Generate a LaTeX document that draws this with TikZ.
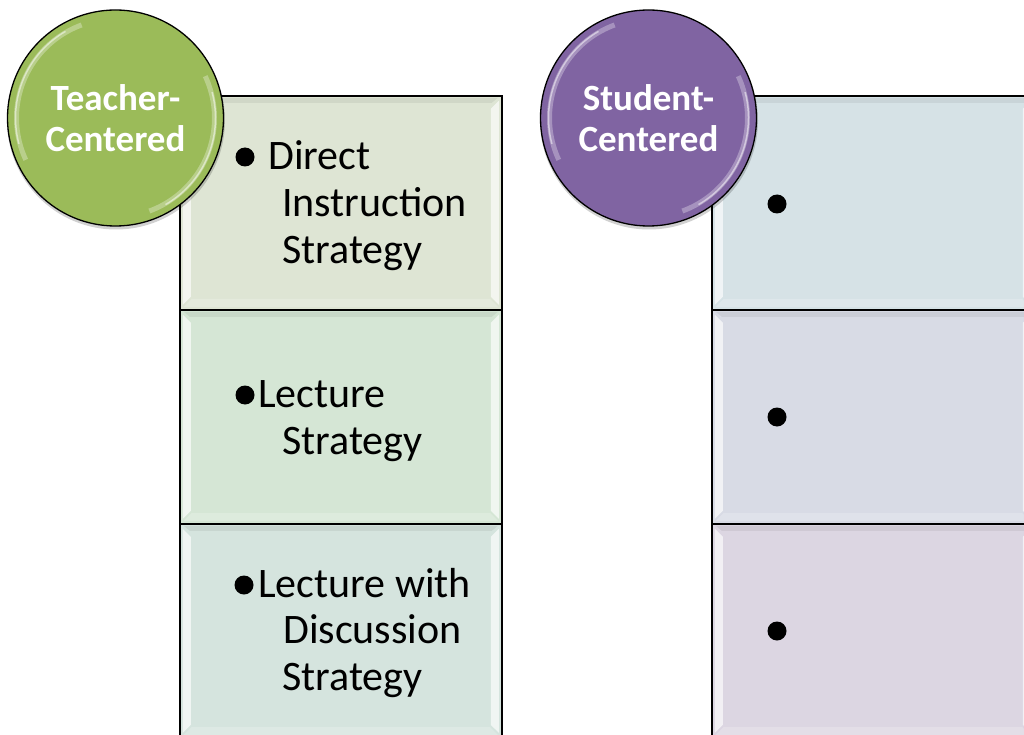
\documentclass[tikz,border=0pt]{standalone}
\usepackage{fontspec}
\setmainfont{Carlito}
\usetikzlibrary{calc}
\definecolor{tgreen}{HTML}{9BBB59}
\definecolor{spurple}{HTML}{8064A2}
\definecolor{lA}{RGB}{222,229,212}
\definecolor{lB}{RGB}{213,230,213}
\definecolor{lC}{RGB}{213,228,222}
\definecolor{rA}{RGB}{214,226,230}
\definecolor{rB}{RGB}{216,219,229}
\definecolor{rC}{RGB}{220,214,226}
\begin{document}
\begin{tikzpicture}[x=1pt,y=1pt,
  box/.style={draw=black, line width=1.6pt, minimum width=322pt, minimum height=214pt,
    inner sep=0pt, anchor=north west,
    path picture={
      \coordinate (pnw) at (path picture bounding box.north west);
      \coordinate (pne) at (path picture bounding box.north east);
      \coordinate (psw) at (path picture bounding box.south west);
      \coordinate (pse) at (path picture bounding box.south east);
      \fill[white,opacity=.65] ($(pnw)+(3,-5)$) -- ($(pnw)+(11,-13)$) -- ($(psw)+(11,13)$) -- ($(psw)+(3,5)$) -- cycle;
      \fill[white,opacity=.65] ($(pne)+(-3,-5)$) -- ($(pne)+(-11,-13)$) -- ($(pse)+(-11,13)$) -- ($(pse)+(-3,5)$) -- cycle;
      \fill[black,opacity=.06] ($(pnw)+(4,-2)$) -- ($(pne)+(-4,-2)$) -- ($(pne)+(-10,-7)$) -- ($(pnw)+(10,-7)$) -- cycle;
      \fill[white,opacity=.2] ($(psw)+(4,3)$) -- ($(pse)+(-4,3)$) -- ($(pse)+(-12,11)$) -- ($(psw)+(12,11)$) -- cycle;
    }},
  badge/.style={circle, draw=black, line width=1.3pt, minimum size=216pt, inner sep=0pt,
    text=white, align=center, font=\bfseries\fontsize{37}{41}\selectfont,
    path picture={
      \coordinate (pc) at (path picture bounding box.center);
      \draw[white,opacity=.3,line width=5pt] ($(pc)+(110:99)$) arc (110:205:99);
      \draw[white,opacity=.5,line width=1.5pt] ($(pc)+(120:100)$) arc (120:195:100);
      \draw[white,opacity=.3,line width=5pt] ($(pc)+(290:99)$) arc (290:385:99);
      \draw[white,opacity=.5,line width=1.5pt] ($(pc)+(300:100)$) arc (300:375:100);
    }},
  shade/.style={circle, fill=black, opacity=.18, minimum size=218pt, inner sep=0pt},
  item/.style={anchor=base west, inner sep=0pt, font=\fontsize{42}{47}\selectfont},
  dot/.style={circle, fill=black, minimum size=19pt, inner sep=0pt},
]
\useasboundingbox (0,0) rectangle (1024,-735);
\fill[white] (0,0) rectangle (1024,-735);
% left column
\node[box, fill=lA] (l1) at (179,-95) {};
\node[box, fill=lB] (l2) at (179,-309) {};
\node[box, fill=lC] (l3) at (179,-523) {};
% right column
\node[box, fill=rA] (r1) at (711,-95) {};
\node[box, fill=rB] (r2) at (711,-309) {};
\node[box, fill=rC] (r3) at (711,-523) {};
% badges
\node[shade] (tcs) at (116,-120.5) {};
\node[shade] (scs) at (649,-120.5) {};
\node[badge, fill=tgreen] (tc) at (115.5,-118) {Teacher-\\Centered};
\node[badge, fill=spurple] (sc) at (648.5,-118) {Student-\\Centered};
% left texts
\node[dot] (d1) at (245,-157) {};
\node[item] (t1a) at (268,-170) {Direct};
\node[item] (t1b) at (282,-217) {Instruction};
\node[item] (t1c) at (282,-263) {Strategy};
\node[dot] (d2) at (245,-395) {};
\node[item] (t2a) at (258,-407) {Lecture};
\node[item] (t2b) at (282,-454) {Strategy};
\node[dot] (d3) at (244,-585) {};
\node[item] (t3a) at (258,-597) {Lecture with};
\node[item] (t3b) at (283,-643) {Discussion};
\node[item] (t3c) at (282,-690) {Strategy};
% right bullets
\node[dot] (e1) at (777,-204) {};
\node[dot] (e2) at (777,-417) {};
\node[dot] (e3) at (777,-631) {};
\end{tikzpicture}
\end{document}
